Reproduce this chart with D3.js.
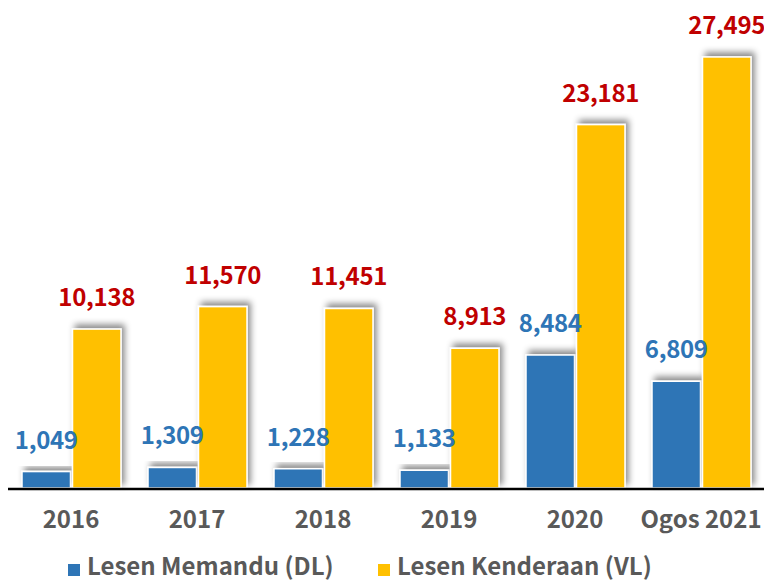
<!DOCTYPE html>
<html lang="ms">
<head>
    <meta charset="UTF-8">
    <script src="https://d3js.org/d3.v7.min.js"></script>
    <style>
        body { margin: 0; background: #fff; }
        text { font-family: "Noto Sans CJK JP", "Noto Sans", sans-serif; font-weight: bold; }
    </style>
</head>
<body>
    <div id="chart"></div>
    <script>
        // data
        const years = ["2016", "2017", "2018", "2019", "2020", "Ogos 2021"];
        const seriesNames = ["Lesen Memandu (DL)", "Lesen Kenderaan (VL)"];
        const dlValues = [1049, 1309, 1228, 1133, 8484, 6809];
        const vlValues = [10138, 11570, 11451, 8913, 23181, 27495];

        const colors = ["#2E75B6", "#FFC000"];
        const labelColors = ["#2E75B6", "#C00000"];

        const W = 764, H = 581;
        const baseY = 488;

        const rows = years.map((yr, i) => ({ year: yr, values: [dlValues[i], vlValues[i]] }));

        const svg = d3.select("#chart").append("svg")
            .attr("width", W)
            .attr("height", H);

        // shadow, a bit up and to the right like the original
        const defs = svg.append("defs");
        defs.append("filter")
            .attr("id", "shadow")
            .attr("x", "-30%").attr("y", "-30%")
            .attr("width", "160%").attr("height", "160%")
            .append("feDropShadow")
            .attr("dx", 3)
            .attr("dy", -4)
            .attr("stdDeviation", 3)
            .attr("flood-color", "#000")
            .attr("flood-opacity", 0.45);

        const x0 = d3.scaleBand()
            .domain(years)
            .range([8, 764])
            .padding(0);

        const x1 = d3.scaleBand()
            .domain([0, 1])
            .range([14, 113])
            .paddingInner(0.04);

        const y = d3.scaleLinear()
            .domain([0, 31000])
            .range([baseY, 2]);

        const groups = svg.selectAll(".grp")
            .data(rows)
            .join("g")
            .attr("class", "grp")
            .attr("transform", d => `translate(${x0(d.year)},0)`);

        groups.selectAll("rect")
            .data(d => d.values.map((v, k) => ({ v, k })))
            .join("rect")
            .attr("x", d => x1(d.k))
            .attr("y", d => y(d.v))
            .attr("width", x1.bandwidth())
            .attr("height", d => y(0) - y(d.v))
            .attr("fill", d => colors[d.k])
            .attr("stroke", "#fff")
            .attr("stroke-width", 1.5)
            .attr("filter", "url(#shadow)");

        // value labels
        groups.selectAll(".val")
            .data(d => d.values.map((v, k) => ({ v, k })))
            .join("text")
            .attr("class", "val")
            .attr("x", d => x1(d.k) + x1.bandwidth() / 2)
            .attr("y", d => y(d.v) - 23)
            .attr("text-anchor", "middle")
            .attr("font-size", 24)
            .attr("letter-spacing", -0.3)
            .attr("fill", d => labelColors[d.k])
            .text(d => d3.format(",")(d.v));

        // baseline
        svg.append("line")
            .attr("x1", 8).attr("x2", 764)
            .attr("y1", baseY + 1).attr("y2", baseY + 1)
            .attr("stroke", "#000")
            .attr("stroke-width", 2.5);

        // category labels
        svg.append("g")
            .selectAll("text")
            .data(years)
            .join("text")
            .attr("x", d => x0(d) + x0.bandwidth() / 2)
            .attr("y", 528)
            .attr("text-anchor", "middle")
            .attr("font-size", 24)
            .attr("fill", "#595959")
            .text(d => d);

        // legend
        const legendX = [68, 378];
        const legend = svg.append("g")
            .selectAll("g")
            .data(seriesNames)
            .join("g")
            .attr("transform", (d, i) => `translate(${legendX[i]},0)`);

        legend.append("rect")
            .attr("x", 0).attr("y", 564)
            .attr("width", 12).attr("height", 12)
            .attr("fill", (d, i) => colors[i]);

        legend.append("text")
            .attr("x", 19)
            .attr("y", 575)
            .attr("font-size", 24)
            .attr("fill", "#595959")
            .text(d => d);
    </script>
</body>
</html>
